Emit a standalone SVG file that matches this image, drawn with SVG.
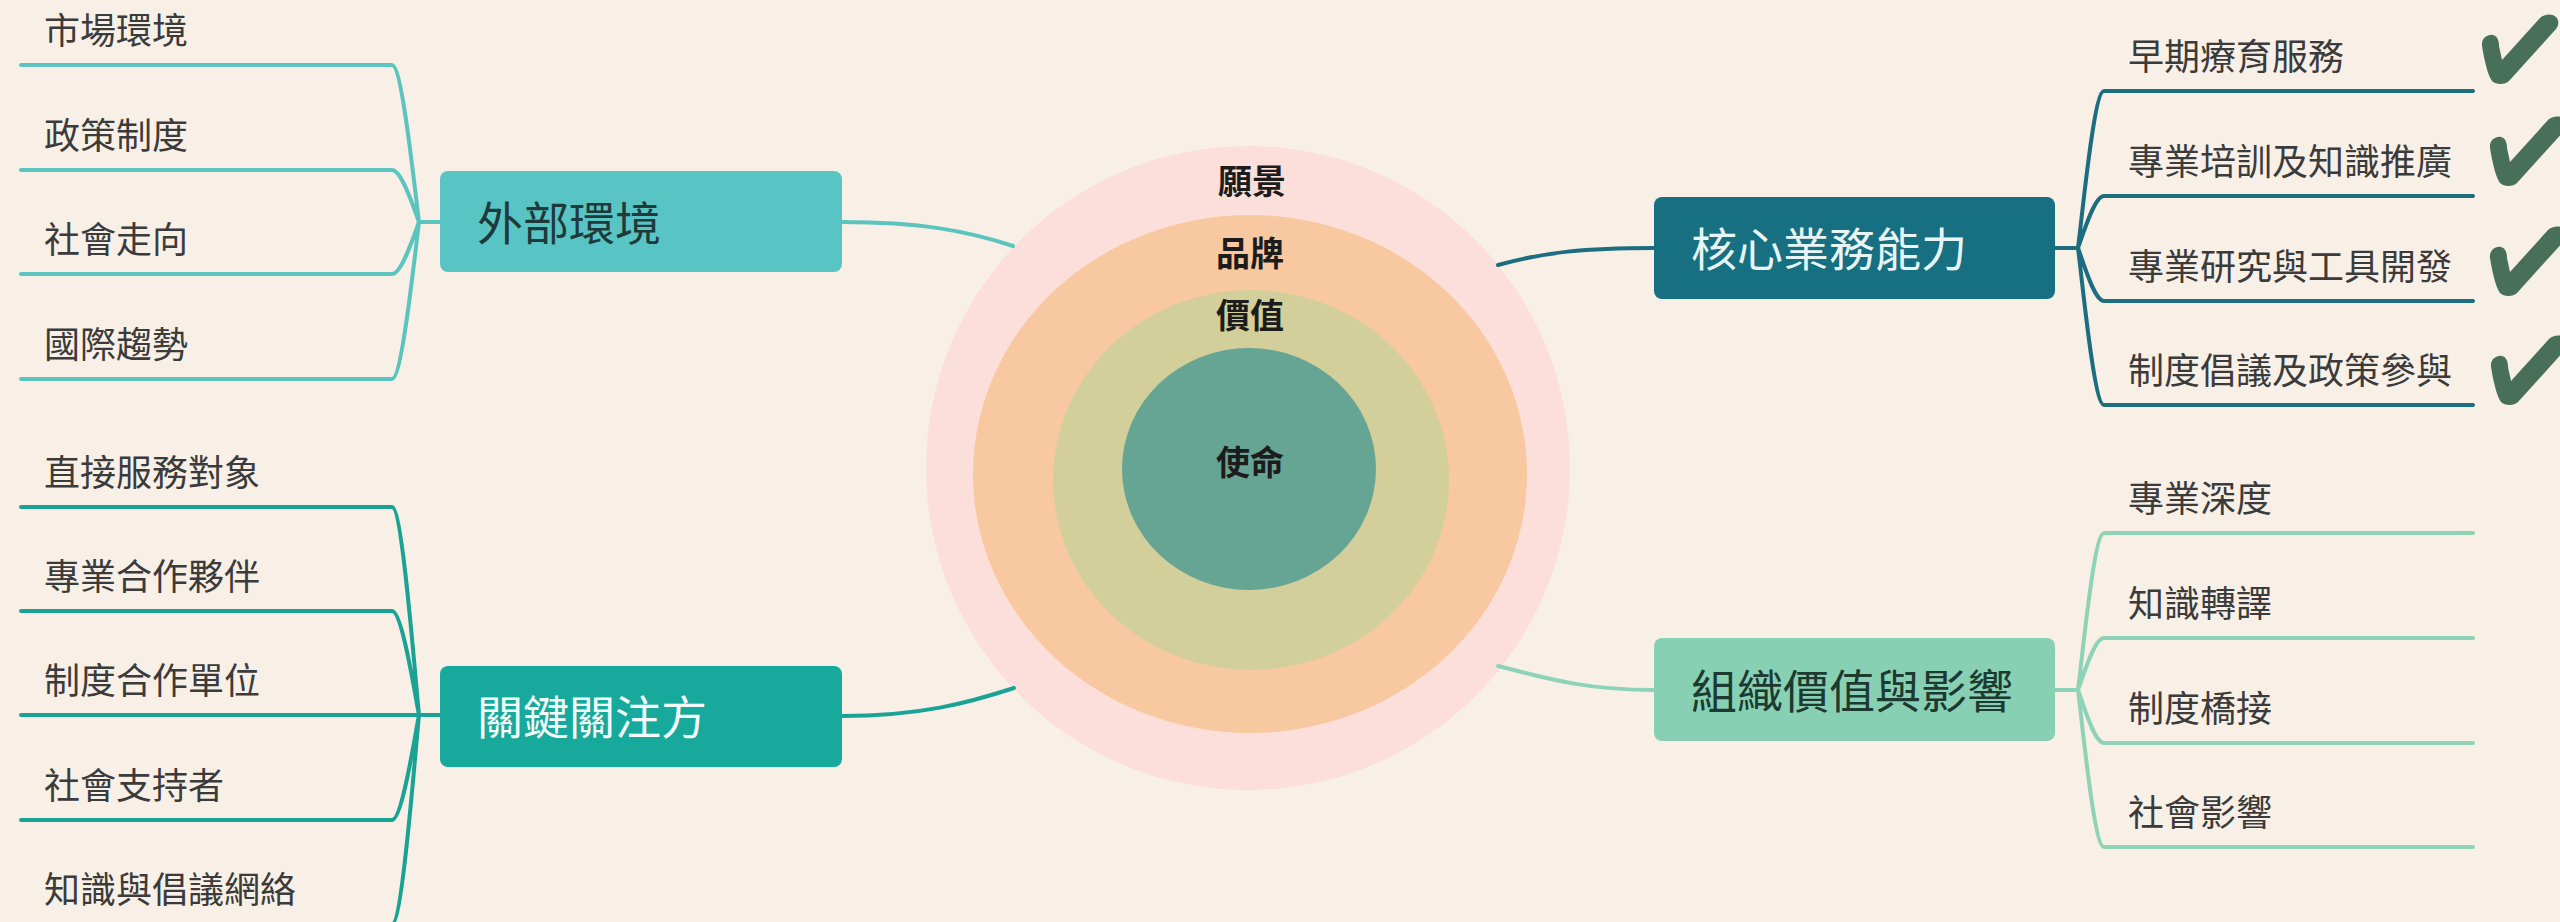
<svg xmlns="http://www.w3.org/2000/svg" width="2560" height="922" viewBox="0 0 2560 922">
<defs>
<style>
text{font-family:"Noto Sans CJK TC","Noto Sans CJK SC",sans-serif}
.lbl{font-size:36px;fill:#3b3b3b}
.btxt{font-size:46px}
.ctr{font-size:34px;font-weight:700;fill:#1c1c1c;text-anchor:middle}
.ln{fill:none;stroke-width:4;stroke-linecap:round}
.c1{stroke:#5cc4bf}.c2{stroke:#1aa395}.c3{stroke:#1b6d7f}.c4{stroke:#8ed3b8}
.chk{fill:#476f59}
</style>
<path id="check" d="M4,32 C3,24 10,20 15,21 C19,22 21,26 21,32 L24,46 L62,4 C66,0 74,-1 78,3 C81,6 81,11 78,15 L31,67 C27,71 18,71 14,67 C10,62 6,45 4,32 Z"/>
</defs>
<rect x="0" y="0" width="2560" height="922" fill="#f8f0e6"/>

<g id="core">
<circle cx="1248" cy="468" r="322" fill="#fcdfda"/>
<ellipse cx="1250" cy="474" rx="277" ry="259" fill="#f8c9a1"/>
<ellipse cx="1251" cy="480" rx="198" ry="190" fill="#d3cf9b"/>
<ellipse cx="1249" cy="469" rx="127" ry="121" fill="#66a594"/>
<text class="ctr" x="1252" y="194">願景</text>
<text class="ctr" x="1250" y="266">品牌</text>
<text class="ctr" x="1250" y="328">價值</text>
<text class="ctr" x="1250" y="475">使命</text>
</g>

<g id="connectors">
<path class="ln c1" d="M842,222 C920,222 968,231 1013,246"/>
<path class="ln c2" d="M842,716 C920,716 968,703 1014,688"/>
<path class="ln c3" d="M1498,265 C1545,252 1585,248 1654,248"/>
<path class="ln c4" d="M1498,666 C1545,678 1585,690 1654,690"/>

<path class="ln c1" d="M440,222 L419,222 M419,222 C414,183 402,65 392,65 L21,65 M419,222 C414,209 402,170 392,170 L21,170 M419,222 C414,235 402,274 392,274 L21,274 M419,222 C414,261 402,379 392,379 L21,379"/>
<path class="ln c2" d="M440,715 L419,715 M419,715 C414,663 402,507 392,507 L21,507 M419,715 C414,689 402,611 392,611 L21,611 M419,715 L21,715 M419,715 C414,741 402,820 392,820 L21,820 M419,715 C414,767 402,924 392,924 L21,924"/>
<path class="ln c3" d="M2055,248 L2078,248 M2078,248 C2083,209 2094,91 2104,91 L2473,91 M2078,248 C2083,235 2094,196 2104,196 L2473,196 M2078,248 C2083,261 2094,301 2104,301 L2473,301 M2078,248 C2083,287 2094,405 2104,405 L2473,405"/>
<path class="ln c4" d="M2055,690 L2078,690 M2078,690 C2083,651 2094,533 2104,533 L2473,533 M2078,690 C2083,677 2094,638 2104,638 L2473,638 M2078,690 C2083,703 2094,743 2104,743 L2473,743 M2078,690 C2083,729 2094,847 2104,847 L2473,847"/>
</g>

<g id="external">
<rect x="440" y="171" width="402" height="101" rx="8" fill="#58c4c4"/>
<text class="btxt" x="477" y="240" fill="#1f3a3a">外部環境</text>
</g>
<g id="ext-items">
<text class="lbl" x="44" y="44">市場環境</text>
<text class="lbl" x="44" y="149">政策制度</text>
<text class="lbl" x="44" y="253">社會走向</text>
<text class="lbl" x="44" y="358">國際趨勢</text>
</g>

<g id="stakeholders">
<rect x="440" y="666" width="402" height="101" rx="8" fill="#17a99b"/>
<text class="btxt" x="477" y="734" fill="#f2fafa">關鍵關注方</text>
</g>
<g id="stake-items">
<text class="lbl" x="44" y="486">直接服務對象</text>
<text class="lbl" x="44" y="590">專業合作夥伴</text>
<text class="lbl" x="44" y="694">制度合作單位</text>
<text class="lbl" x="44" y="799">社會支持者</text>
<text class="lbl" x="44" y="903">知識與倡議網絡</text>
</g>

<g id="capability">
<rect x="1654" y="197" width="401" height="102" rx="8" fill="#176f82"/>
<text class="btxt" x="1691" y="266" fill="#e8f5f6">核心業務能力</text>
</g>
<g id="cap-items">
<text class="lbl" x="2128" y="70">早期療育服務</text>
<text class="lbl" x="2128" y="175">專業培訓及知識推廣</text>
<text class="lbl" x="2128" y="280">專業研究與工具開發</text>
<text class="lbl" x="2128" y="384">制度倡議及政策參與</text>
<use href="#check" class="chk" x="2478" y="14"/>
<use href="#check" class="chk" x="2486" y="116"/>
<use href="#check" class="chk" x="2486" y="226"/>
<use href="#check" class="chk" x="2487" y="335"/>
</g>

<g id="impact">
<rect x="1654" y="638" width="401" height="103" rx="8" fill="#88d0b4"/>
<text class="btxt" x="1691" y="708" fill="#1c3a30">組織價值與影響</text>
</g>
<g id="impact-items">
<text class="lbl" x="2128" y="512">專業深度</text>
<text class="lbl" x="2128" y="617">知識轉譯</text>
<text class="lbl" x="2128" y="722">制度橋接</text>
<text class="lbl" x="2128" y="826">社會影響</text>
</g>
</svg>
